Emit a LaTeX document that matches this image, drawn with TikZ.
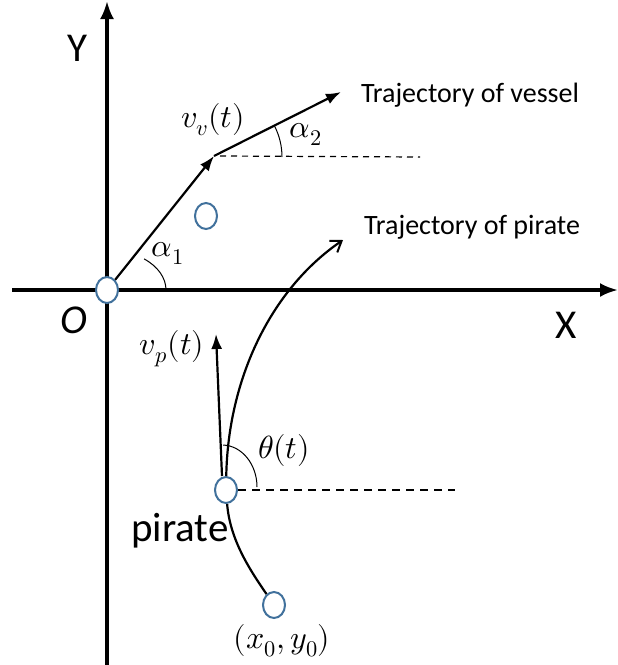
\documentclass[tikz,border=0pt]{standalone}
\usepackage{fontspec}
\usepackage{unicode-math}
\setmainfont{Carlito}
\setmathfont{Latin Modern Math}
\usetikzlibrary{arrows.meta,shapes.geometric}
\definecolor{cblue}{RGB}{65,113,156}
\begin{document}
\begin{tikzpicture}[x=1pt,y=-1pt,
  pt/.style={ellipse,draw=cblue,line width=2pt,fill=white,minimum width=22pt,minimum height=26pt,inner sep=0pt},
  axis/.style={line width=3.4pt,-{Latex[length=18pt,width=14pt]}},
  vec/.style={line width=2.2pt,-{Latex[length=15pt,width=11pt]}},
  traj/.style={line width=2.2pt},
  thinarc/.style={line width=1pt},
  dashA/.style={line width=1.2pt,dash pattern=on 6pt off 5pt},
  dashB/.style={line width=2pt,dash pattern=on 8pt off 6pt},
  big/.style={font=\fontsize{41}{48}\selectfont,inner sep=0pt},
  mid/.style={font=\fontsize{28}{33}\selectfont,inner sep=0pt},
  mth/.style={font=\fontsize{32}{38}\selectfont,inner sep=0pt}
]
\useasboundingbox (0,0) rectangle (618,665);
% axes
\coordinate (ybot) at (107,665);
\coordinate (ytop) at (107,1);
\coordinate (xleft) at (12,290);
\coordinate (xright) at (618,290);
\draw[axis] (ybot) -- (ytop);
\draw[axis] (xleft) -- (xright);
% points
\node[pt] (O) at (107,290) {};
\node[pt] (M) at (206,216) {};
\node[pt] (P) at (226,490) {};
\node[pt] (S) at (274,605) {};
% vessel
\coordinate (V1) at (214,156);
\coordinate (V2) at (341,92);
\coordinate (D1) at (420,157);
\draw[dashA] ([xshift=6pt]V1) -- (D1);
\draw[vec] (O) -- (V1);
\draw[vec] (V1) -- (V2);
\draw[thinarc] (282,157) arc[start angle=0,end angle=-27,radius=68];
\draw[thinarc] (166,290) arc[start angle=0,end angle=-51,x radius=59,y radius=40];
% pirate
\coordinate (T) at (343,240);
\coordinate (VP) at (216,334);
\coordinate (D2) at (455,490);
\draw[traj] (S) .. controls (250,570) and (230,540) .. (P);
\draw[traj,-{Straight Barb[length=10pt,width=14pt,line width=2pt]}] (P) .. controls (228,380) and (270,290) .. (T);
\draw[vec] ([xshift=-4pt]P.north) -- (VP);
\draw[dashB] (P) -- (D2);
\draw[thinarc] (257,487) arc[start angle=0,end angle=-88,x radius=35,y radius=42];
% labels
\node[big] (ly) at (77,48) {Y};
\node[big] (lx) at (566,325) {X};
\node[big] (lo) at (74,320) {\itshape O};
\node[big] (lp) at (180,531) {pirate};
\node[mid] (lv) at (470,95) {Trajectory of vessel};
\node[mid] (lt) at (472,227) {Trajectory of pirate};
\node[mth] (lvv) at (213,120) {$v_v(t)$};
\node[mth] (la2) at (306,134) {$\alpha_2$};
\node[mth] (la1) at (168,253) {$\alpha_1$};
\node[mth] (lvp) at (172,349) {$v_p(t)$};
\node[mth] (lth) at (284,450) {$\theta(t)$};
\node[mth] (lxy) at (282,641) {$(x_0,y_0)$};
\end{tikzpicture}
\end{document}
